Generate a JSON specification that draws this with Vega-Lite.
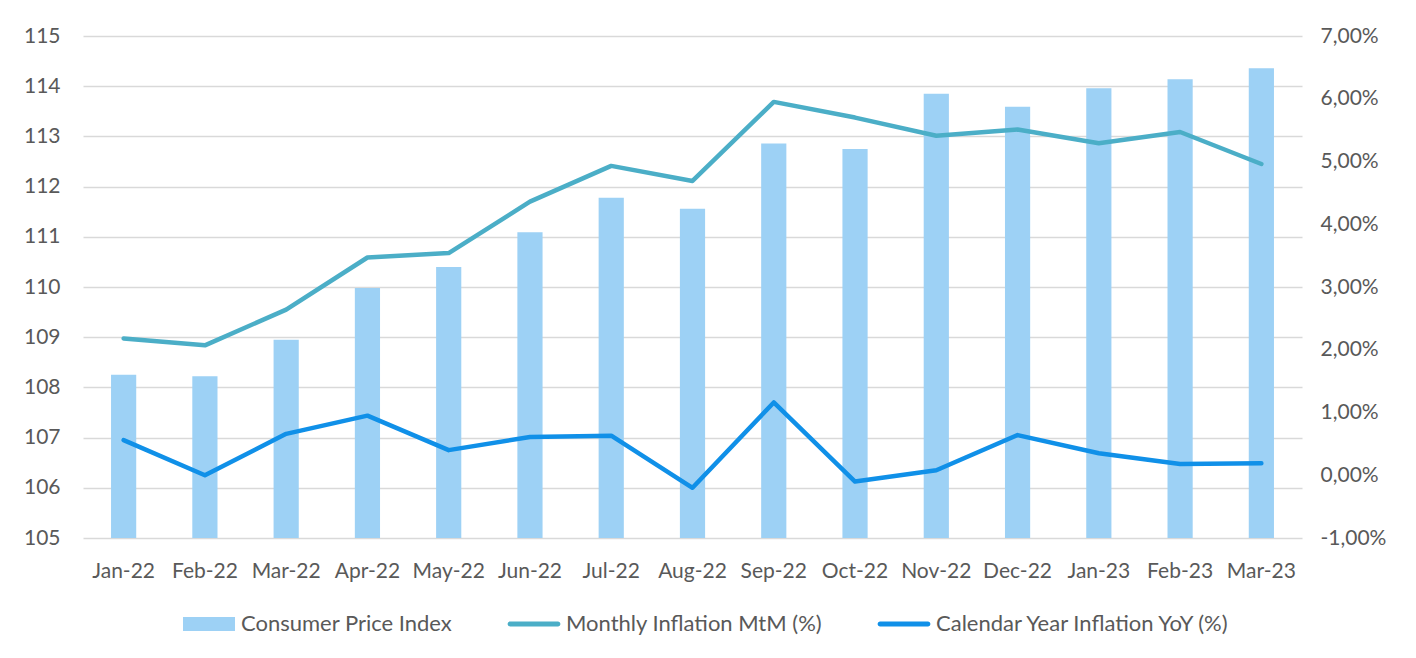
{
  "$schema": "https://vega.github.io/schema/vega-lite/v6.json",
  "width": 1219,
  "height": 502,
  "autosize": {"type": "none"},
  "padding": {"left": 83, "top": 36, "right": 114, "bottom": 120},
  "background": "white",
  "config": {
    "font": "Lato",
    "view": {"stroke": null},
    "axis": {"labelFont": "Lato", "labelFontSize": 21, "labelColor": "#595959", "domain": false, "ticks": false, "title": null},
    "legend": {"title": null, "labelLimit": 0}
  },
  "data": {
    "values": [
      {"month": "Jan-22", "cpi": 108.25, "mtm": 2.18, "yoy": 0.56},
      {"month": "Feb-22", "cpi": 108.22, "mtm": 2.07, "yoy": 0.0},
      {"month": "Mar-22", "cpi": 108.95, "mtm": 2.64, "yoy": 0.66},
      {"month": "Apr-22", "cpi": 109.98, "mtm": 3.47, "yoy": 0.95},
      {"month": "May-22", "cpi": 110.40, "mtm": 3.54, "yoy": 0.40},
      {"month": "Jun-22", "cpi": 111.09, "mtm": 4.36, "yoy": 0.61},
      {"month": "Jul-22", "cpi": 111.78, "mtm": 4.93, "yoy": 0.63},
      {"month": "Aug-22", "cpi": 111.56, "mtm": 4.69, "yoy": -0.20},
      {"month": "Sep-22", "cpi": 112.86, "mtm": 5.95, "yoy": 1.16},
      {"month": "Oct-22", "cpi": 112.75, "mtm": 5.70, "yoy": -0.10},
      {"month": "Nov-22", "cpi": 113.85, "mtm": 5.41, "yoy": 0.08},
      {"month": "Dec-22", "cpi": 113.59, "mtm": 5.51, "yoy": 0.64},
      {"month": "Jan-23", "cpi": 113.96, "mtm": 5.29, "yoy": 0.35},
      {"month": "Feb-23", "cpi": 114.14, "mtm": 5.47, "yoy": 0.18},
      {"month": "Mar-23", "cpi": 114.36, "mtm": 4.96, "yoy": 0.19}
    ]
  },
  "layer": [
    {
      "mark": {"type": "bar"},
      "encoding": {
        "x": {"field": "month", "type": "nominal", "sort": null,
              "scale": {"paddingInner": 0.69, "paddingOuter": 0.345},
              "axis": {"labelAngle": 0, "labelPadding": 22}},
        "y": {"field": "cpi", "type": "quantitative",
              "scale": {"domain": [105, 115], "zero": false, "nice": false},
              "axis": {"values": [105, 106, 107, 108, 109, 110, 111, 112, 113, 114, 115], "format": "d", "labelPadding": 23, "grid": true, "gridColor": "#D9D9D9", "gridWidth": 1.5}},
        "y2": {"datum": 105},
        "color": {
          "datum": "cpi", "type": "nominal",
          "scale": {"domain": ["cpi", "mtm", "yoy"], "range": ["#9DD1F5", "#4BAEC7", "#1090E8"]},
          "legend": {
            "orient": "none", "legendX": 100, "legendY": 562, "direction": "horizontal", "title": null,
            "symbolSize": 2704, "labelFont": "Lato", "labelFontSize": 22, "labelColor": "#595959",
            "labelOffset": 6, "columnPadding": 54, "labelLimit": 0,
            "labelExpr": "datum.value == 'cpi' ? 'Consumer Price Index' : datum.value == 'mtm' ? 'Monthly Inflation MtM (%)' : 'Calendar Year Inflation YoY (%)'",
            "encode": {
              "symbols": {
                "update": {
                  "shape": {"signal": "datum.value == 'cpi' ? 'M-1,-0.27H1V0.27H-1Z' : 'M-0.92,-0.095H0.92A0.095,0.095 0 0 1 0.92,0.095H-0.92A0.095,0.095 0 0 1 -0.92,-0.095Z'"},
                  "fill": {"scale": "color", "field": "value"},
                  "fillOpacity": {"value": 1},
                  "opacity": {"value": 1},
                  "strokeWidth": {"value": 0}
                }
              }
            }
          }
        }
      }
    },
    {
      "transform": [{"fold": ["mtm", "yoy"], "as": ["series", "pct"]}],
      "mark": {"type": "line", "strokeWidth": 4.5, "strokeCap": "round", "strokeJoin": "round"},
      "encoding": {
        "x": {"field": "month", "type": "nominal", "sort": null},
        "y": {"field": "pct", "type": "quantitative",
              "scale": {"domain": [-1, 7], "nice": false, "zero": false},
              "axis": {"orient": "right", "values": [-1, 0, 1, 2, 3, 4, 5, 6, 7], "labelPadding": 18, "grid": false,
                       "labelExpr": "(datum.value < 0 ? '-' : '') + replace(format(abs(datum.value), '.2f'), '.', ',') + '%'"}},
        "color": {"field": "series", "type": "nominal", "legend": {"title": null}}
      }
    }
  ],
  "resolve": {"scale": {"y": "independent"}}
}
